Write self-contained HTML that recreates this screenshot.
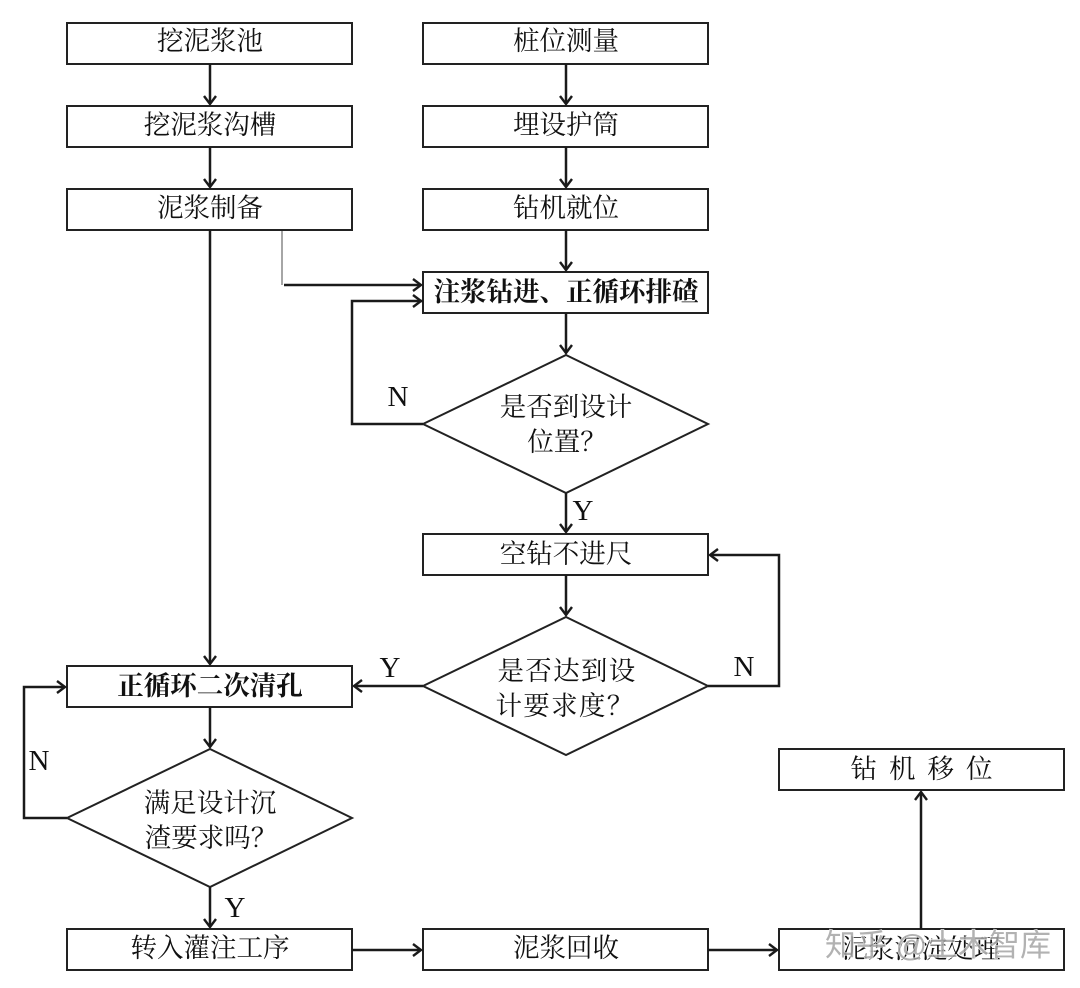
<!DOCTYPE html>
<html><head><meta charset="utf-8"><style>
html,body{margin:0;padding:0;background:#fff}
svg{display:block;filter:blur(.35px)}
text{font-family:"Liberation Serif","Noto Serif CJK SC",serif;font-size:26.5px;fill:#111;text-anchor:middle}
.b{font-weight:bold}
.l{font-size:29px}
rect,polygon{fill:#fff;stroke:#222;stroke-width:2}
.c{fill:none;stroke:#1a1a1a;stroke-width:2.5}
.a{fill:none;stroke:#1a1a1a;stroke-width:2.4}
</style></head><body>
<svg width="1080" height="988" viewBox="0 0 1080 988" xmlns="http://www.w3.org/2000/svg">
<rect x="67" y="23" width="285" height="41"/>
<rect x="67" y="106" width="285" height="41"/>
<rect x="67" y="189" width="285" height="41"/>
<rect x="423" y="23" width="285" height="41"/>
<rect x="423" y="106" width="285" height="41"/>
<rect x="423" y="189" width="285" height="41"/>
<rect x="423" y="272" width="285" height="41"/>
<rect x="423" y="534" width="285" height="41"/>
<rect x="67" y="666" width="285" height="41"/>
<rect x="779" y="749" width="285" height="41"/>
<rect x="67" y="929" width="285" height="41"/>
<rect x="423" y="929" width="285" height="41"/>
<rect x="779" y="929" width="285" height="41"/>
<polygon points="566,355 708,424 566,493 423,424"/>
<polygon points="566,617 708,686 566,755 423,686"/>
<polygon points="210,749 352,818 210,887 67,818"/>

<path class="c" d="M210 64V104M210 147V187M210 230V664M566 64V104M566 147V187M566 230V270M566 313V353M566 493V532M566 575V615M210 707V747M210 887V927"/>
<path class="c" d="M284 285H421M423 301H352V424H423M708 686H779V555H710M423 686H354M67 818H24V687H65M352 950H421M708 950H777M921 929V792"/>
<path d="M282 231V285" fill="none" stroke="#888" stroke-width="1.5"/>
<path class="a" d="M204 96L210 104L216 96M204 179L210 187L216 179M204 656L210 664L216 656M204 739L210 747L216 739M204 919L210 927L216 919
M560 96L566 104L572 96M560 179L566 187L572 179M560 262L566 270L572 262M560 345L566 353L572 345M560 524L566 532L572 524M560 607L566 615L572 607
M413 279L421 285L413 291M413 295L421 301L413 307M718 549L710 555L718 561M362 680L354 686L362 692M57 681L65 687L57 693M413 944L421 950L413 956M769 944L777 950L769 956M915 800L921 792L927 800"/>

<text x="210" y="50">挖泥浆池</text>
<text x="210" y="134">挖泥浆沟槽</text>
<text x="210" y="217">泥浆制备</text>
<text x="566" y="50">桩位测量</text>
<text x="566" y="134">埋设护筒</text>
<text x="566" y="217">钻机就位</text>
<text x="566" y="301" class="b">注浆钻进、正循环排碴</text>
<text x="566" y="416">是否到设计</text>
<text x="567" y="451">位置？</text>
<text x="566" y="563">空钻不进尺</text>
<text x="567" y="680" style="letter-spacing:1.3px">是否达到设</text>
<text x="565" y="715" style="letter-spacing:1.3px">计要求度？</text>
<text x="210" y="695" class="b">正循环二次清孔</text>
<text x="210" y="812">满足设计沉</text>
<text x="211" y="847">渣要求吗？</text>
<text x="210" y="957">转入灌注工序</text>
<text x="566" y="957">泥浆回收</text>
<text x="927.5" y="778" style="letter-spacing:12px">钻机移位</text>
<text x="921" y="958">泥浆沉淀处理</text>
<text x="938" y="956" style="fill:#a5a5a5;stroke:#fff;stroke-width:1.2px;paint-order:stroke;opacity:.85;font-family:'Liberation Sans','Noto Sans CJK SC',sans-serif;font-size:31px">知乎 @土木智库</text>

<text x="398" y="406" class="l">N</text>
<text x="583" y="520" class="l">Y</text>
<text x="744" y="676" class="l">N</text>
<text x="390" y="677" class="l">Y</text>
<text x="39" y="770" class="l">N</text>
<text x="235" y="917" class="l">Y</text>
</svg>
</body></html>
